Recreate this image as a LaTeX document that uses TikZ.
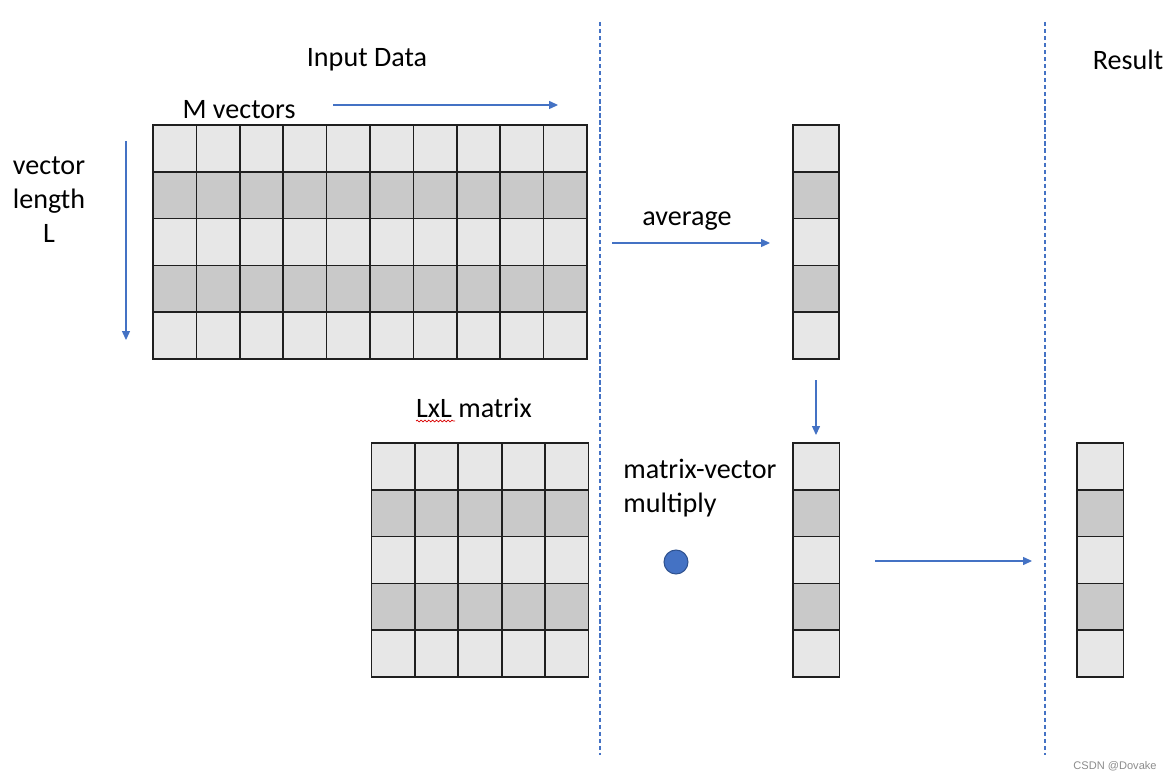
\documentclass[tikz,border=0pt]{standalone}
\usepackage{fontspec}
\setmainfont{Carlito}
\newfontfamily\markfont{Liberation Sans}
\usepackage{tikz}
\usetikzlibrary{arrows.meta, decorations.pathmorphing}

\definecolor{cellLight}{HTML}{E7E7E7}
\definecolor{cellDark}{HTML}{C9C9C9}
\definecolor{flowBlue}{HTML}{4472C4}
\definecolor{dotEdge}{HTML}{2F528F}

\tikzset{
    lightcell/.style={draw=black!88, line width=1pt, fill=cellLight},
    darkcell/.style={draw=black!88, line width=1pt, fill=cellDark},
    flow/.style={draw=flowBlue, line width=0.6pt, -{Triangle[length=5pt,width=4.5pt]}},
    divider/.style={draw=flowBlue, line width=0.6pt, dash pattern=on 2.4pt off 1.6pt},
    txt/.style={font=\fontsize{16}{19.4}\selectfont, inner sep=0pt}
}

\begin{document}
\begin{tikzpicture}[x=0.02cm, y=-0.02cm]
    \useasboundingbox (0,0) rectangle (1169,780);

    % grids: M vectors, LxL matrix and the three vectors
    \foreach \r/\s in {0/lightcell, 1/darkcell, 2/lightcell, 3/darkcell, 4/lightcell} {
        \foreach \c in {0,...,9}
            \draw[\s] ({153+43.4*\c},{125+46.8*\r}) rectangle +(43.4,46.8);
        \foreach \c in {0,...,4}
            \draw[\s] ({371.5+43.4*\c},{443+46.8*\r}) rectangle +(43.4,46.8);
        \draw[\s] (793,{125+46.8*\r}) rectangle +(46,46.8);
        \draw[\s] (793,{443+46.8*\r}) rectangle +(46.5,46.8);
        \draw[\s] (1077,{443+46.8*\r}) rectangle +(46.5,46.8);
    }

    % section dividers
    \draw[divider] (600,22) -- (600,755);
    \draw[divider] (1045,22) -- (1045,755);

    % texts
    \node[txt] (inputData) at (367,60) {Input Data};
    \node[txt] (result) at (1128,60) {Result};
    \node[txt] (mVectors) at (239,110) {M vectors};
    \node[txt, align=center] (vecLength) at (49,200) {vector\\length\\L};
    \node[txt] (average) at (687,221) {average};
    \node[txt] (lxlMatrix) at (474,408) {LxL matrix};
    \node[txt, align=left, anchor=west] (mvMultiply) at (623,488) {matrix-vector\\multiply};
    \node[font=\markfont\fontsize{6.3}{7}\selectfont, text=black!45, inner sep=0pt] (mark) at (1115,766) {CSDN @Dovake};

    % spell-check squiggle under LxL
    \draw[red!85!black, line width=0.4pt, decorate, decoration={snake, amplitude=0.5pt, segment length=2.2pt}] (416,421) -- (455,421);

    % multiply dot
    \node[circle, fill=flowBlue, draw=dotEdge, line width=0.6pt, minimum size=0.48cm, inner sep=0pt] (mulDot) at (676,562) {};

    % arrows
    \coordinate (mvStart) at (333,105);
    \coordinate (mvEnd) at (558,105);
    \coordinate (lenStart) at (126,141);
    \coordinate (lenEnd) at (126,340);
    \coordinate (avgStart) at (612,243);
    \coordinate (avgEnd) at (770,243);
    \coordinate (downStart) at (816,380);
    \coordinate (downEnd) at (816,435);
    \coordinate (resStart) at (875,561);
    \coordinate (resEnd) at (1032,561);
    \draw[flow] (mvStart) -- (mvEnd);
    \draw[flow] (lenStart) -- (lenEnd);
    \draw[flow] (avgStart) -- (avgEnd);
    \draw[flow] (downStart) -- (downEnd);
    \draw[flow] (resStart) -- (resEnd);
\end{tikzpicture}
\end{document}
